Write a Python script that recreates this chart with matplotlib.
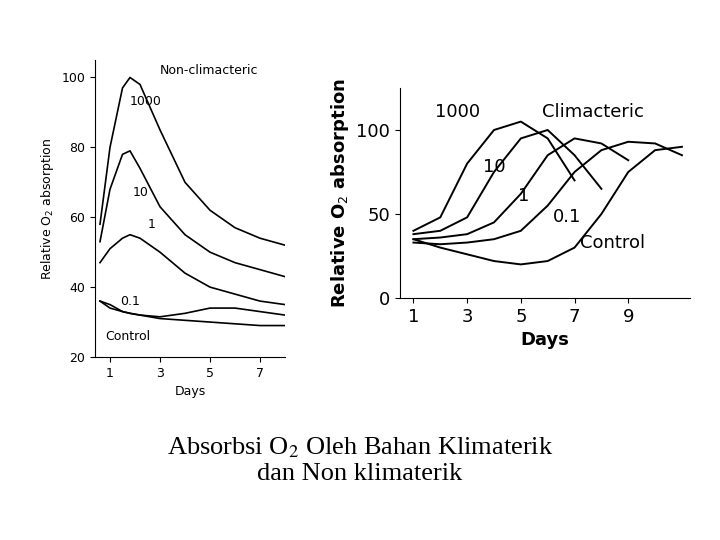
import numpy as np
import matplotlib.pyplot as plt

# ---------------------------------------------------------------------------
# Data
# ---------------------------------------------------------------------------
left_days = [0.6, 1.0, 1.5, 1.8, 2.2, 3.0, 4.0, 5.0, 6.0, 7.0, 8.0]
left_series = {
    "1000": [58, 80, 97, 100, 98, 85, 70, 62, 57, 54, 52],
    "10":   [53, 68, 78, 79, 74, 63, 55, 50, 47, 45, 43],
    "1":    [47, 51, 54, 55, 54, 50, 44, 40, 38, 36, 35],
    "0.1":  [36, 35, 33, 32.5, 32, 31.5, 32.5, 34, 34, 33, 32],
    "Control": [36, 34, 33, 32.5, 32, 31, 30.5, 30, 29.5, 29, 29],
}
left_labels = {"1000": (1.8, 92), "10": (1.9, 66), "1": (2.5, 57),
               "0.1": (1.4, 35), "Control": (0.8, 25)}

right_days = [1, 2, 3, 4, 5, 6, 7, 8, 9, 10, 11]
right_series = {
    "1000":    [40, 48, 80, 100, 105, 95, 70, None, None, None, None],
    "10":      [38, 40, 48, 75, 95, 100, 85, 65, None, None, None],
    "1":       [35, 36, 38, 45, 62, 85, 95, 92, 82, None, None],
    "0.1":     [33, 32, 33, 35, 40, 55, 75, 88, 93, 92, 85],
    "Control": [35, 30, 26, 22, 20, 22, 30, 50, 75, 88, 90],
}
right_labels = {"1000": (1.8, 108), "10": (3.6, 75), "1": (4.9, 58),
                "0.1": (6.2, 45), "Control": (7.2, 30)}

fig = plt.figure(figsize=(7.2, 5.4), dpi=100)

# --- Left panel: non-climacteric ---
ax1 = fig.add_axes([95 / 720, 1 - 357 / 540, 190 / 720, 297 / 540])
for name, vals in left_series.items():
    ax1.plot(left_days, vals, color="black", lw=1.2)
    x, y = left_labels[name]
    ax1.text(x, y, name, fontsize=9)
ax1.text(3.0, 101, "Non-climacteric", fontsize=9)
ax1.set_xlim(0.4, 8)
ax1.set_ylim(20, 105)
ax1.set_xticks([1, 3, 5, 7])
ax1.set_yticks([20, 40, 60, 80, 100])
ax1.spines[["top", "right"]].set_visible(False)
ax1.set_xlabel("Days", fontsize=9)
ax1.set_ylabel("Relative O$_2$ absorption", fontsize=9)
ax1.tick_params(labelsize=9)

# --- Right panel: climacteric ---
ax2 = fig.add_axes([400 / 720, 1 - 298 / 540, 290 / 720, 210 / 540])
for name, vals in right_series.items():
    d = [x for x, v in zip(right_days, vals) if v is not None]
    v = [v for v in vals if v is not None]
    ax2.plot(d, v, color="black", lw=1.4)
    x, y = right_labels[name]
    ax2.text(x, y, name, fontsize=13)
ax2.text(5.8, 108, "Climacteric", fontsize=13)
ax2.set_xlim(0.5, 11.3)
ax2.set_ylim(0, 125)
ax2.set_xticks([1, 3, 5, 7, 9])
ax2.set_yticks([0, 50, 100])
ax2.spines[["top", "right"]].set_visible(False)
ax2.set_xlabel("Days", fontsize=13, fontweight="bold")
ax2.set_ylabel("Relative O$_2$ absorption", fontsize=13, fontweight="bold")
ax2.tick_params(labelsize=13)

plt.rcParams["mathtext.fontset"] = "stix"
fig.text(0.5, 1 - 460 / 540, "Absorbsi O$_2$ Oleh Bahan Klimaterik\ndan Non klimaterik",
         ha="center", va="center", fontsize=19, family="Liberation Serif",
         linespacing=1.2)

fig.savefig("out.png", dpi=100)
